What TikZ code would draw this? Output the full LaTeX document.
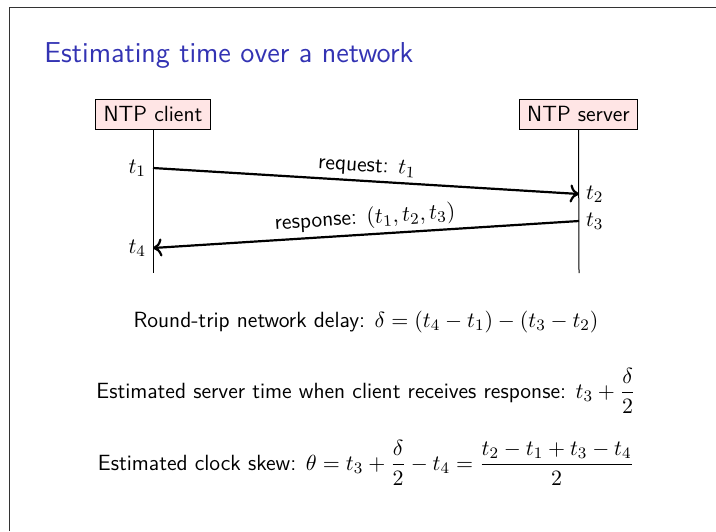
\documentclass[tikz,border=0pt]{standalone}
\usepackage{amsmath}
\usetikzlibrary{arrows.meta}
\definecolor{titleblue}{RGB}{51,51,179}
\tikzset{
	actor/.style={draw, fill=red!10, minimum height=15pt, inner xsep=4pt, font=\sffamily\fontsize{11}{13}\selectfont},
	msg/.style={line width=1.1pt, -{To[length=4.5pt,width=9pt]}},
	lifeline/.style={line width=0.5pt},
	tlabel/.style={font=\fontsize{11}{13}\selectfont},
	msglabel/.style={anchor=south, sloped, inner sep=2pt, font=\sffamily\fontsize{11}{13}\selectfont},
	formula/.style={anchor=base, font=\sffamily\fontsize{11}{13}\selectfont}
}

\begin{document}
\begin{tikzpicture}[x=0.5pt, y=-0.5pt]
	\useasboundingbox (0,0) rectangle (716,531);
	% slide frame
	\draw[black!80, line width=0.7pt] (9.5,531) -- (9.5,7.5) -- (716,7.5);
	% title
	\node[anchor=base west, inner sep=0, text=titleblue, font=\sffamily\fontsize{14.4}{17}\selectfont] (title) at (44,62) {Estimating time over a network};
	
	% client and server with their time lines
	\node[actor] (client) at (153,114) {NTP client};
	\node[actor] (server) at (578.5,114) {NTP server};
	\coordinate (clientend) at (153,273);
	\coordinate (serverend) at (579,273);
	\draw[lifeline] (client.south) -- (clientend);
	\draw[lifeline] (server.south) -- (serverend);
	
	% timestamps
	\coordinate (t1) at (153,168);
	\coordinate (t2) at (579,194);
	\coordinate (t3) at (579,221);
	\coordinate (t4) at (153,248);
	\node[tlabel, left] (lt1) at (t1) {$t_1$};
	\node[tlabel, right] (lt2) at (t2) {$t_2$};
	\node[tlabel, right] (lt3) at (t3) {$t_3$};
	\node[tlabel, left] (lt4) at (t4) {$t_4$};
	
	% messages
	\draw[msg] (t1) -- node[msglabel] (req) {request: $t_1$} (t2);
	\draw[msg] (t3) -- node[msglabel] (resp) {response: $(t_1, t_2, t_3)$} (t4);
	
	% estimates
	\node[formula] (delay) at (366,327) {Round-trip network delay: $\delta = (t_4 - t_1) - (t_3 - t_2)$};
	\node[formula] (srvtime) at (366,398) {Estimated server time when client receives response: $t_3 + \dfrac{\delta}{2}$};
	\node[formula] (skew) at (366,470) {Estimated clock skew: $\theta = t_3 + \dfrac{\delta}{2} - t_4 = \dfrac{t_2 - t_1 + t_3 - t_4}{2}$};
\end{tikzpicture}
\end{document}
